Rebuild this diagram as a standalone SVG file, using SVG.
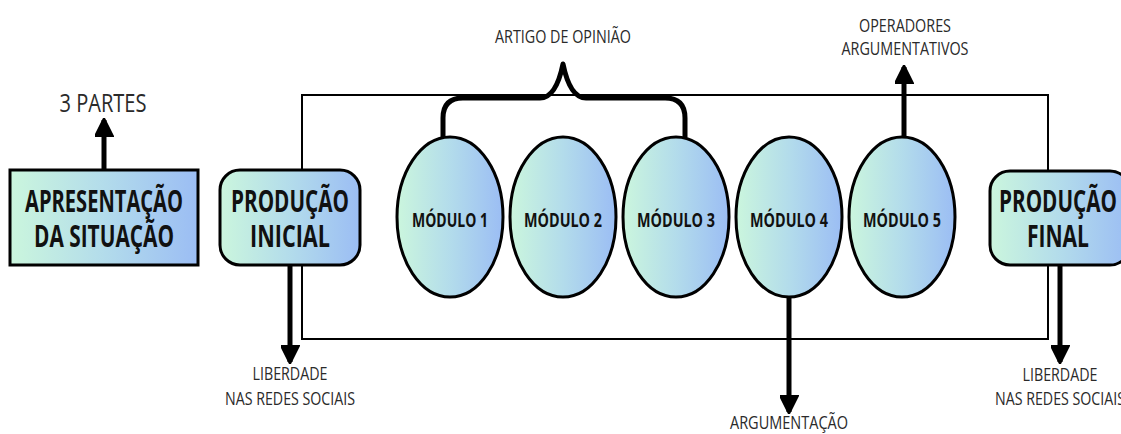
<svg xmlns="http://www.w3.org/2000/svg" width="1121" height="434" viewBox="0 0 1121 434">
<defs>
<linearGradient id="g" x1="0" y1="0" x2="1" y2="0">
<stop offset="0" stop-color="#cbf6dd"/>
<stop offset="0.5" stop-color="#b3dceb"/>
<stop offset="1" stop-color="#9bbdf4"/>
</linearGradient>
<marker id="ah" viewBox="0 0 10 10" refX="9" refY="5" markerWidth="3.8" markerHeight="3.8" orient="auto" markerUnits="strokeWidth">
<path d="M0,0 L10,5 L0,10 Z" fill="#000" stroke="#000" stroke-width="1" stroke-linejoin="round"/>
</marker>
<style>
.box{fill:url(#g);stroke:#000;stroke-width:3}
.big{font-family:"Open Sans","DejaVu Sans",sans-serif;font-weight:bold;font-size:31px;fill:#111;text-anchor:middle}
.mod{font-family:"Open Sans","DejaVu Sans",sans-serif;font-weight:bold;font-size:19px;fill:#111;text-anchor:middle}
.lbl{font-family:"Open Sans","DejaVu Sans",sans-serif;font-size:17.5px;fill:#2a2a2a;text-anchor:middle}
.thin{fill:none;stroke:#000;stroke-width:2}
.arr{fill:none;stroke:#000;stroke-width:5;marker-end:url(#ah)}
</style>
</defs>
<g id="connectors">
<path class="thin" d="M302,170 V95 H1048 V170 M1048,265 V339 H302 V265"/>
<path d="M443,137 V118 Q443,98 463,98 H540 Q556,98 563,64 Q570,98 586,98 H665 Q685,98 685,118 V137" fill="none" stroke="#000" stroke-width="5" stroke-linejoin="round"/>
<line class="arr" x1="104" y1="170" x2="104" y2="120"/>
<line class="arr" x1="290" y1="265" x2="290" y2="362"/>
<line class="arr" x1="789" y1="297" x2="789" y2="412"/>
<line class="arr" x1="904" y1="137" x2="904" y2="67"/>
<line class="arr" x1="1060" y1="265" x2="1060" y2="362"/>
</g>
<g id="apresentacao">
<rect class="box" x="10" y="170" width="188" height="95"/>
<text class="big" x="104" y="212" textLength="158" lengthAdjust="spacingAndGlyphs">APRESENTAÇÃO</text>
<text class="big" x="104" y="247" textLength="140" lengthAdjust="spacingAndGlyphs">DA SITUAÇÃO</text>
</g>
<g id="producao-inicial">
<rect class="box" x="220" y="170" width="140" height="95" rx="20"/>
<text class="big" x="290" y="212" textLength="118" lengthAdjust="spacingAndGlyphs">PRODUÇÃO</text>
<text class="big" x="290" y="247" textLength="80" lengthAdjust="spacingAndGlyphs">INICIAL</text>
</g>
<g id="modulo1">
<ellipse class="box" cx="450" cy="217" rx="53" ry="80"/>
<text class="mod" x="450" y="227" textLength="76" lengthAdjust="spacingAndGlyphs">MÓDULO 1</text>
</g>
<g id="modulo2">
<ellipse class="box" cx="563" cy="217" rx="53" ry="80"/>
<text class="mod" x="563" y="227" textLength="78" lengthAdjust="spacingAndGlyphs">MÓDULO 2</text>
</g>
<g id="modulo3">
<ellipse class="box" cx="676" cy="217" rx="53" ry="80"/>
<text class="mod" x="676" y="227" textLength="78" lengthAdjust="spacingAndGlyphs">MÓDULO 3</text>
</g>
<g id="modulo4">
<ellipse class="box" cx="789" cy="217" rx="53" ry="80"/>
<text class="mod" x="789" y="227" textLength="78" lengthAdjust="spacingAndGlyphs">MÓDULO 4</text>
</g>
<g id="modulo5">
<ellipse class="box" cx="902" cy="217" rx="53" ry="80"/>
<text class="mod" x="902" y="227" textLength="78" lengthAdjust="spacingAndGlyphs">MÓDULO 5</text>
</g>
<g id="producao-final">
<rect class="box" x="990" y="171" width="140" height="94" rx="20"/>
<text class="big" x="1058" y="212" textLength="118" lengthAdjust="spacingAndGlyphs">PRODUÇÃO</text>
<text class="big" x="1058" y="247" textLength="62" lengthAdjust="spacingAndGlyphs">FINAL</text>
</g>
<g id="labels">
<text class="lbl" x="103" y="112" style="font-size:25px" textLength="87" lengthAdjust="spacingAndGlyphs">3 PARTES</text>
<text class="lbl" x="563" y="43" textLength="136" lengthAdjust="spacingAndGlyphs">ARTIGO DE OPINIÃO</text>
<text class="lbl" x="905" y="32" textLength="92" lengthAdjust="spacingAndGlyphs">OPERADORES</text>
<text class="lbl" x="905" y="55" textLength="127" lengthAdjust="spacingAndGlyphs">ARGUMENTATIVOS</text>
<text class="lbl" x="290" y="380" textLength="75" lengthAdjust="spacingAndGlyphs">LIBERDADE</text>
<text class="lbl" x="290" y="405" textLength="130" lengthAdjust="spacingAndGlyphs">NAS REDES SOCIAIS</text>
<text class="lbl" x="789" y="429" textLength="118" lengthAdjust="spacingAndGlyphs">ARGUMENTAÇÃO</text>
<text class="lbl" x="1060" y="381" textLength="75" lengthAdjust="spacingAndGlyphs">LIBERDADE</text>
<text class="lbl" x="1060" y="405" textLength="130" lengthAdjust="spacingAndGlyphs">NAS REDES SOCIAIS</text>
</g>
</svg>
